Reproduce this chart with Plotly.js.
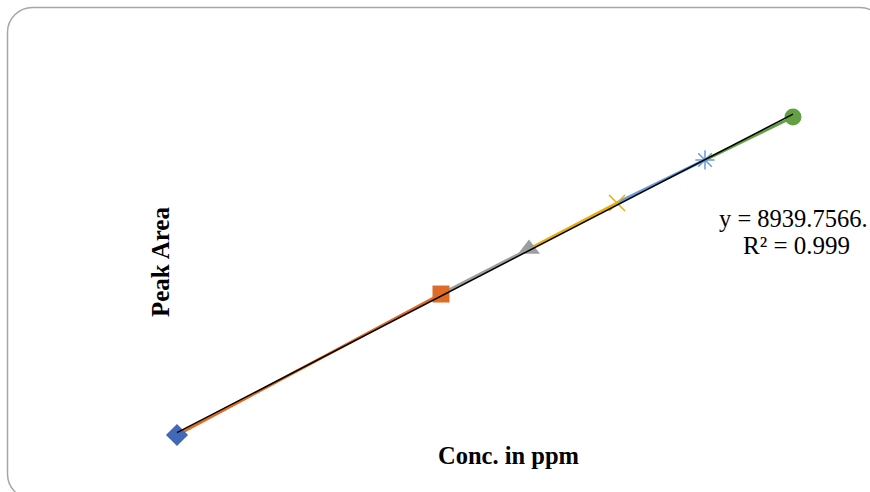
<!DOCTYPE html>
<html>
<head>
<meta charset="utf-8">
<script src="https://cdn.plot.ly/plotly-3.0.1.min.js"></script>
<style>html,body{margin:0;padding:0;background:#fff;}#chart{width:870px;height:492px;}</style>
</head>
<body>
<div id="chart"></div>
<script>
// Data (concentration in ppm vs peak area)
const conc = [10, 25, 30, 35, 40, 45];
const peakArea = [88000, 226700, 271000, 316300, 358600, 400900];
const pointColors = ['#4169B5', '#DD6C26', '#9E9E9E', '#E8AE00', '#6A9BD3', '#62A043'];
const pointSymbols = ['diamond', 'square', 'triangle-up', 'x-thin-open', 'asterisk-open', 'circle'];
const pointSizes = [17, 17, 19, 16, 16, 17];
const eqText = 'y = 8939.7566.';
const r2Text = 'R² = 0.999';
const xTitle = 'Conc. in ppm';
const yTitle = 'Peak Area';

const W = 870, H = 492;
const serif = '"Liberation Serif", "Times New Roman", serif';

const traces = [];
// coloured connecting segments (each ends in its own series colour)
for (let i = 1; i < conc.length; i++) {
  traces.push({
    x: [conc[i - 1], conc[i]], y: [peakArea[i - 1], peakArea[i]],
    mode: 'lines', type: 'scatter', hoverinfo: 'skip',
    line: {color: pointColors[i], width: 3}
  });
}
// markers
for (let i = 0; i < conc.length; i++) {
  const open = pointSymbols[i].indexOf('open') >= 0;
  traces.push({
    x: [conc[i]], y: [peakArea[i]], mode: 'markers', type: 'scatter',
    marker: {symbol: pointSymbols[i], size: pointSizes[i], color: pointColors[i],
             line: {color: pointColors[i], width: open ? 1.5 : 0}}
  });
}
// linear trendline from least squares
const n = conc.length;
const mx = conc.reduce((a, b) => a + b, 0) / n;
const my = peakArea.reduce((a, b) => a + b, 0) / n;
let sxy = 0, sxx = 0;
for (let i = 0; i < n; i++) { sxy += (conc[i] - mx) * (peakArea[i] - my); sxx += (conc[i] - mx) ** 2; }
const slope = sxy / sxx, icpt = my - slope * mx;
const xMin = Math.min(...conc), xMax = Math.max(...conc);
traces.push({
  x: [xMin, xMax], y: [icpt + slope * xMin, icpt + slope * xMax],
  mode: 'lines', type: 'scatter', hoverinfo: 'skip',
  line: {color: '#000000', width: 1.5}
});

// rounded frame path in paper coords
function P(px, py) { return (px / W).toFixed(5) + ',' + (1 - py / H).toFixed(5); }
const L = 7.5, T = 7.5, R = 885, B = 499, r = 25, k = 0.5523 * r;
const framePath = 'M' + P(L + r, T) + ' L' + P(R - r, T) +
  ' C' + P(R - r + k, T) + ' ' + P(R, T + r - k) + ' ' + P(R, T + r) +
  ' L' + P(R, B - r) +
  ' C' + P(R, B - r + k) + ' ' + P(R - r + k, B) + ' ' + P(R - r, B) +
  ' L' + P(L + r, B) +
  ' C' + P(L + r - k, B) + ' ' + P(L, B - r + k) + ' ' + P(L, B - r) +
  ' L' + P(L, T + r) +
  ' C' + P(L, T + r - k) + ' ' + P(L + r - k, T) + ' ' + P(L + r, T) + ' Z';

const layout = {
  width: W, height: H,
  margin: {l: 0, r: 0, t: 0, b: 0},
  paper_bgcolor: '#ffffff', plot_bgcolor: 'rgba(0,0,0,0)',
  showlegend: false,
  xaxis: {range: [-0.057, 49.375], visible: false, fixedrange: true},
  yaxis: {range: [31919, 515993], visible: false, fixedrange: true},
  shapes: [{type: 'path', xref: 'paper', yref: 'paper', path: framePath,
            line: {color: '#A6A6A6', width: 1.5}, fillcolor: 'rgba(0,0,0,0)', layer: 'below'}],
  annotations: [
    {xref: 'paper', yref: 'paper', x: 508 / W, y: 1 - 455 / H, xanchor: 'center', yanchor: 'middle',
     text: '<b>' + xTitle + '</b>', showarrow: false, font: {family: serif, size: 24.5, color: '#000'}},
    {xref: 'paper', yref: 'paper', x: 160 / W, y: 1 - 262 / H, xanchor: 'center', yanchor: 'middle',
     text: '<b>' + yTitle + '</b>', textangle: -90, showarrow: false,
     font: {family: serif, size: 25, color: '#000'}},
    {xref: 'paper', yref: 'paper', x: 717 / W, y: 1 - 218 / H, xanchor: 'left', yanchor: 'middle',
     text: eqText, showarrow: false, font: {family: serif, size: 24.5, color: '#000'}},
    {xref: 'paper', yref: 'paper', x: 796 / W, y: 1 - 245 / H, xanchor: 'center', yanchor: 'middle',
     text: r2Text, showarrow: false, font: {family: serif, size: 25, color: '#000'}}
  ]
};

Plotly.newPlot('chart', traces, layout, {displayModeBar: false, staticPlot: true});
</script>
</body>
</html>
